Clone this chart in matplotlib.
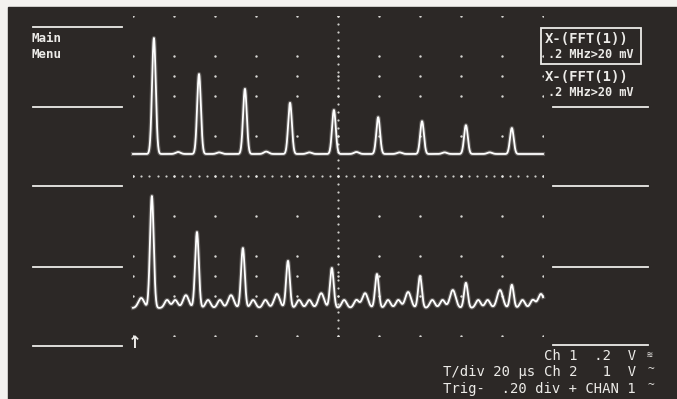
import numpy as np
import matplotlib
matplotlib.use("Agg")
import matplotlib.pyplot as plt
from matplotlib.patches import Rectangle

W, H = 677, 399

# ---- data (graticule divisions: x 0..10, y -4..4) ----
# top trace: FFT of channel 1
top_base = 0.55
top_peak_x = [0.51, 1.61, 2.73, 3.83, 4.90, 5.98, 7.05, 8.12, 9.24]
top_peak_y = [3.45, 2.55, 2.18, 1.83, 1.65, 1.47, 1.37, 1.27, 1.20]
top_ripple_x = [1.10, 2.10, 3.25, 4.30, 5.45, 6.50, 7.60, 8.70]
top_ripple_y = [0.60, 0.59, 0.61, 0.59, 0.60, 0.59, 0.59, 0.59]

# bottom trace
bot_base = -3.30
bot_peak_x = [0.46, 1.56, 2.68, 3.78, 4.85, 5.95, 7.00, 8.12, 9.24]
bot_peak_y = [-0.50, -1.40, -1.80, -2.12, -2.30, -2.45, -2.50, -2.67, -2.72]
bot_side_x = [0.20, 1.29, 2.39, 3.51, 4.59, 5.66, 6.71, 7.80, 8.95, 9.95]
bot_side_y = [-3.05, -2.98, -2.98, -2.95, -2.93, -2.93, -2.90, -2.85, -2.85, -2.95]
bot_wig_x = [0.83, 1.03, 1.83, 2.12, 2.93, 3.23, 4.05, 4.30, 5.15, 5.45,
             6.22, 6.47, 7.30, 7.55, 8.42, 8.65, 9.50, 9.75]
bot_wig_y = [-3.10] * len(bot_wig_x)

# graticule dot rows (divisions)
dot_rows = [4, 3, 2.5, 2, 1, 0, -1, -2, -2.5, -3, -4]

panel_lines_left = [27, 107, 186, 267, 346]
panel_lines_right = [107, 186, 267, 345]

bg_col = "#2c2826"
fg = "#ecebe8"


def trace(xs, base, px, py, pw, sx, sy, sw):
    y = np.full_like(xs, base)
    for p, h in zip(px, py):
        y += (h - base) * np.exp(-0.5 * ((xs - p) / pw) ** 2)
    for p, h in zip(sx, sy):
        y += (h - base) * np.exp(-0.5 * ((xs - p) / sw) ** 2)
    return y


fig = plt.figure(figsize=(W / 100, H / 100), dpi=100)
fig.patch.set_facecolor("#f4f2ef")

# background overlay in pixel coordinates
bg = fig.add_axes([0, 0, 1, 1])
bg.set_xlim(0, W)
bg.set_ylim(H, 0)
bg.axis("off")
bg.add_patch(Rectangle((8, 7), W - 8, H - 7, color=bg_col, zorder=0))

for yy in panel_lines_left:
    bg.plot([33, 122], [yy, yy], color=fg, lw=1.3)
for yy in panel_lines_right:
    bg.plot([553, 648], [yy, yy], color=fg, lw=1.3)

mono = "DejaVu Sans Mono"
bg.text(32, 39, "Main", color=fg, fontsize=9, family=mono,
        fontweight="bold", va="center")
bg.text(32, 54, "Menu", color=fg, fontsize=9, family=mono,
        fontweight="bold", va="center")

bg.add_patch(Rectangle((541, 28), 100, 36, fill=False, ec=fg, lw=1.3))
for y0 in (39, 77):
    bg.text(545, y0, "X-(FFT(1))", color=fg, fontsize=10, family=mono,
            fontweight="bold", va="center")
    bg.text(548, y0 + 16, ".2 MHz>20 mV", color=fg, fontsize=8.6,
            family=mono, fontweight="bold", va="center")

tk = dict(color=fg, fontsize=10, family=mono, va="center")
bg.text(544, 356, "Ch 1  .2  V", **tk)
bg.text(443, 372, "T/div 20 µs", **tk)
bg.text(544, 372, "Ch 2   1  V", **tk)
bg.text(443, 389, "Trig-  .20 div + CHAN 1", **tk)
bg.text(647, 355, "≋", color=fg, fontsize=7, family=mono, va="center")
bg.text(648, 369, "~", color=fg, fontsize=8, family=mono, va="center")
bg.text(648, 385, "~", color=fg, fontsize=8, family=mono, va="center")
bg.text(135, 343, "↑", color=fg, fontsize=12, family="DejaVu Sans",
        ha="center", va="center", fontweight="bold")

# graticule axes in divisions
ax = fig.add_axes([133 / W, 1 - 336 / H, 410 / W, 320 / H])
ax.set_xlim(0, 10)
ax.set_ylim(-4, 4)
ax.axis("off")
ax.patch.set_alpha(0)

gx, gy = np.meshgrid(np.arange(0, 11), dot_rows)
ax.scatter(gx.ravel(), gy.ravel(), s=3, color=fg, lw=0, alpha=0.9)
cy = np.arange(-4, 4.01, 0.2)
ax.scatter(np.full_like(cy, 5.0), cy, s=2.5, color=fg, lw=0, alpha=0.85)
cx = np.arange(0, 10.01, 0.2)
ax.scatter(cx, np.zeros_like(cx), s=2.5, color=fg, lw=0, alpha=0.85)

xs = np.linspace(0, 10, 3000)
y_top = trace(xs, top_base, top_peak_x, top_peak_y, 0.045,
              top_ripple_x, top_ripple_y, 0.06)
y_bot = trace(xs, bot_base, bot_peak_x, bot_peak_y, 0.045,
              bot_side_x, bot_side_y, 0.07)
y_bot = trace(xs, 0, [], [], 1, bot_wig_x, np.array(bot_wig_y) - bot_base, 0.06) + y_bot

for yv in (y_top, y_bot):
    ax.plot(xs, yv, color=fg, lw=3.0, alpha=0.25, clip_on=False)
    ax.plot(xs, yv, color="white", lw=1.3, clip_on=False)

fig.savefig("out.png", dpi=100, facecolor=fig.get_facecolor())
